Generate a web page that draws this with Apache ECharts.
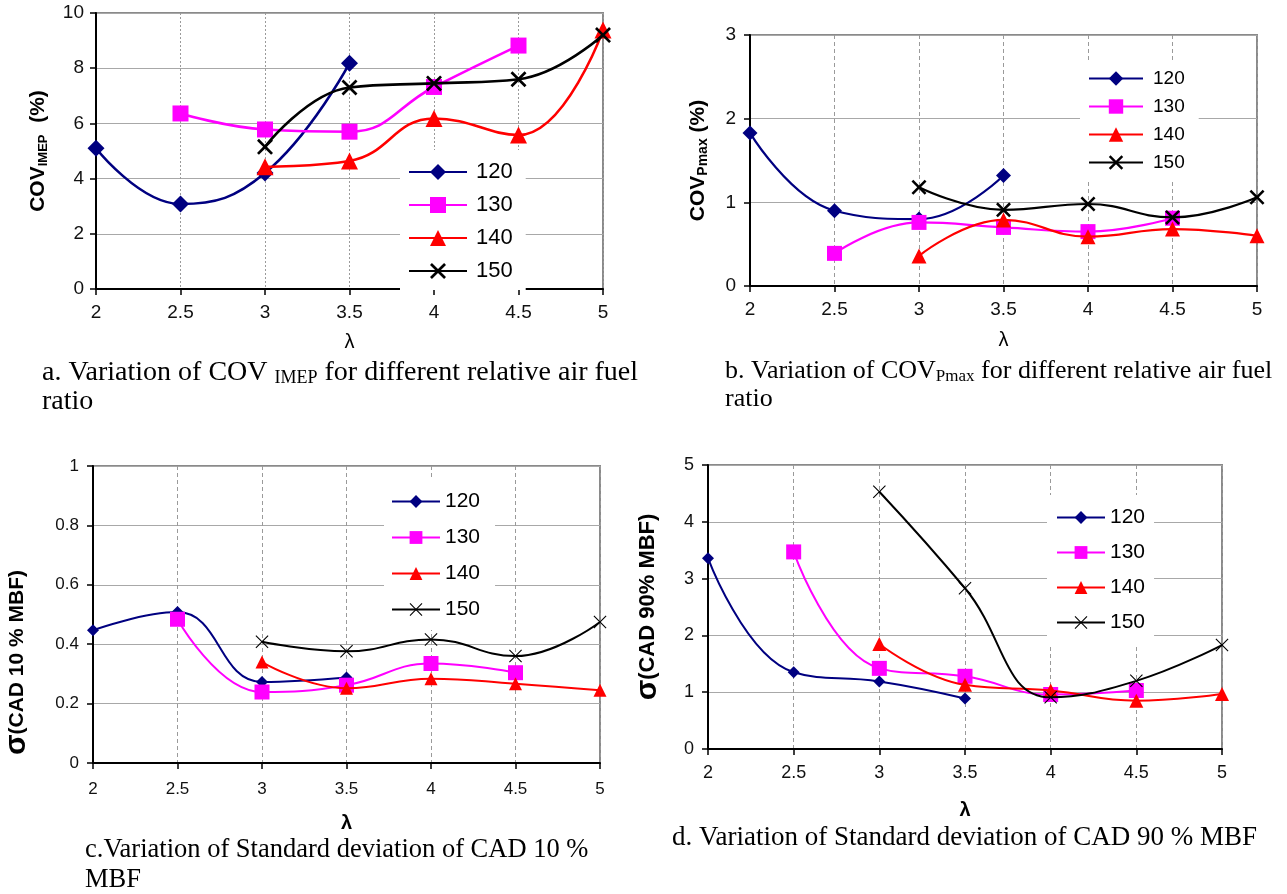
<!DOCTYPE html>
<html>
<head>
<meta charset="utf-8">
<script src="https://cdn.jsdelivr.net/npm/echarts@6/dist/echarts.min.js"></script>
<style>
  html, body { margin: 0; padding: 0; background: #fff; }
  #chart { width: 1287px; height: 894px; }
</style>
</head>
<body>
<div id="chart"></div>
<script>
// λ categories (x values) shared by all four panels
const lambda = [2, 2.5, 3, 3.5, 4, 4.5, 5];
const seriesNames = ['120', '130', '140', '150'];

// a. COV_IMEP (%)
const imep120 = [5.1, 3.08, 4.2, 8.18, null, null, null];
const imep130 = [null, 6.36, 5.78, 5.7, 7.32, 8.82, null];
const imep140 = [null, null, 4.43, 4.64, 6.18, 5.58, 9.38];
const imep150 = [null, null, 5.15, 7.3, 7.45, 7.6, 9.2];

// b. COV_Pmax (%)
const pmax120 = [1.83, 0.9, 0.8, 1.32, null, null, null];
const pmax130 = [null, 0.39, 0.76, 0.7, 0.65, 0.81, null];
const pmax140 = [null, null, 0.36, 0.79, 0.59, 0.68, 0.6];
const pmax150 = [null, null, 1.18, 0.91, 0.98, 0.82, 1.06];

// c. σ(CAD 10 % MBF)
const cad10_120 = [0.447, 0.508, 0.273, 0.288, null, null, null];
const cad10_130 = [null, 0.484, 0.239, 0.262, 0.335, 0.304, null];
const cad10_140 = [null, null, 0.34, 0.252, 0.284, 0.267, 0.245];
const cad10_150 = [null, null, 0.408, 0.376, 0.416, 0.36, 0.475];

// d. σ(CAD 90% MBF)
const cad90_120 = [3.36, 1.35, 1.19, 0.89, null, null, null];
const cad90_130 = [null, 3.47, 1.42, 1.28, 0.96, 1.03, null];
const cad90_140 = [null, null, 1.85, 1.13, 1.03, 0.85, 0.97];
const cad90_150 = [null, null, 4.53, 2.83, 0.91, 1.2, 1.83];

const colors = ['#000080', '#ff00ff', '#ff0000', '#000000'];
const X_THICK = 'path://M0,1.2L1.2,0L5,3.8L8.8,0L10,1.2L6.2,5L10,8.8L8.8,10L5,6.2L1.2,10L0,8.8L3.8,5Z';
const X_THIN = 'path://M0,0.6L0.6,0L5,4.4L9.4,0L10,0.6L5.6,5L10,9.4L9.4,10L5,5.6L0.6,10L0,9.4L4.4,5Z';

const SANS = 'Liberation Sans, Arial, sans-serif';
const SERIF = 'Liberation Serif, Times New Roman, serif';

const panels = [
  { key: 'a', values: [imep120, imep130, imep140, imep150],
    grid: { left: 96, top: 13, width: 507, height: 276 },
    ymax: 10, yint: 2, lineW: 2.6, smooth: 0.45,
    sizes: [17, 16, 17, 16], xSym: X_THICK,
    labelSize: 19, yMargin: 12, xMargin: 14, lamGap: 43, lamBold: 'normal',
    vDash: [2, 2],
    yName: '{b|COV}{s|IMEP}{b|  (%)}', yNameGap: 46, yNamePad: [0, 0, 0, 0],
    yRich: { b: { fontSize: 21, fontWeight: 'bold', fontFamily: SANS, color: '#000', lineHeight: 24 },
             s: { fontSize: 13, fontWeight: 'bold', fontFamily: SANS, color: '#000', lineHeight: 13, verticalAlign: 'bottom' } },
    legend: { left: 400, top: 150, itemWidth: 58, itemHeight: 20, itemGap: 11, fontSize: 22,
              padding: [11, 13, 8, 8], textPad: [0, 0, 0, 4] } },
  { key: 'b', values: [pmax120, pmax130, pmax140, pmax150],
    grid: { left: 750, top: 35, width: 507, height: 251 },
    ymax: 3, yint: 1, lineW: 2.2, smooth: 0.45,
    sizes: [15, 15, 15, 15], xSym: X_THICK,
    labelSize: 19, yMargin: 14, xMargin: 14, lamGap: 44, lamBold: 'normal',
    vDash: [4, 3],
    yName: '{b|COV}{s|Pmax}{b| (%)}', yNameGap: 40, yNamePad: [0, 0, 0, 0],
    yRich: { b: { fontSize: 21, fontWeight: 'bold', fontFamily: SANS, color: '#000', lineHeight: 24 },
             s: { fontSize: 14, fontWeight: 'bold', fontFamily: SANS, color: '#000', lineHeight: 14, verticalAlign: 'bottom' } },
    legend: { left: 1080, top: 60, itemWidth: 54, itemHeight: 18, itemGap: 9, fontSize: 19,
              padding: [9, 14, 8, 8], textPad: [0, 0, 0, 5] } },
  { key: 'c', values: [cad10_120, cad10_130, cad10_140, cad10_150],
    grid: { left: 93, top: 466, width: 507, height: 297 },
    ymax: 1, yint: 0.2, lineW: 2, smooth: 0.45,
    sizes: [12, 15, 13, 13], xSym: X_THIN,
    labelSize: 17, yMargin: 14, xMargin: 18, lamGap: 50, lamBold: 'bold',
    vDash: [4, 3],
    yName: '{g|σ}{t|(CAD 10 % MBF)}', yNameGap: 61, yNamePad: [0, 96, 0, 0],
    yRich: { g: { fontSize: 30, fontWeight: 'bold', fontFamily: SANS, color: '#000' },
             t: { fontSize: 21, fontWeight: 'bold', fontFamily: SANS, color: '#000' } },
    legend: { left: 384, top: 480, itemWidth: 48, itemHeight: 16, itemGap: 15, fontSize: 21,
              padding: [11, 15, 10, 7], textPad: [0, 0, 0, 0] } },
  { key: 'd', values: [cad90_120, cad90_130, cad90_140, cad90_150],
    grid: { left: 708, top: 465, width: 514, height: 284 },
    ymax: 5, yint: 1, lineW: 2, smooth: 0.45,
    sizes: [12, 15, 14, 13], xSym: X_THIN,
    labelSize: 18, yMargin: 14, xMargin: 15, lamGap: 51, lamBold: 'bold',
    vDash: [4, 3],
    yName: '{g|σ}{t|(CAD 90% MBF)}', yNameGap: 45, yNamePad: [0, 0, 0, 0],
    yRich: { g: { fontSize: 30, fontWeight: 'bold', fontFamily: SANS, color: '#000' },
             t: { fontSize: 22, fontWeight: 'bold', fontFamily: SANS, color: '#000' } },
    legend: { left: 1047, top: 495, itemWidth: 48, itemHeight: 16, itemGap: 14, fontSize: 21,
              padding: [12, 9, 13, 9], textPad: [0, 0, 0, 0] } }
];

const symbols = ['diamond', 'rect', 'triangle', null];

const grids = [], xAxes = [], yAxes = [], series = [], legends = [];
panels.forEach(function (p, gi) {
  grids.push(Object.assign({ show: true, borderColor: '#8a8a8a', borderWidth: 2, backgroundColor: 'transparent', containLabel: false }, p.grid));
  xAxes.push({
    type: 'value', gridIndex: gi, min: 2, max: 5, interval: 0.5,
    name: 'λ', nameLocation: 'middle', nameGap: p.lamGap,
    nameTextStyle: { fontSize: 20, fontFamily: SANS, color: '#000', fontWeight: p.lamBold },
    axisLine: { onZero: false, lineStyle: { color: '#000', width: 2 } },
    axisTick: { show: true, inside: false, length: 6, lineStyle: { color: '#000', width: 1.5 } },
    axisLabel: { fontSize: p.labelSize, fontFamily: SANS, color: '#111', margin: p.xMargin },
    splitLine: { show: true, lineStyle: { type: p.vDash, color: '#9a9a9a', width: 1 } }
  });
  yAxes.push({
    type: 'value', gridIndex: gi, min: 0, max: p.ymax, interval: p.yint,
    name: p.yName, nameLocation: 'middle', nameGap: p.yNameGap,
    nameTextStyle: { rich: p.yRich, padding: p.yNamePad },
    axisLine: { onZero: false, lineStyle: { color: '#000', width: 2 } },
    axisTick: { show: true, inside: false, length: 6, lineStyle: { color: '#000', width: 1.5 } },
    axisLabel: { fontSize: p.labelSize, fontFamily: SANS, color: '#111', margin: p.yMargin },
    splitLine: { show: true, lineStyle: { type: 'solid', color: '#a8a8a8', width: 1 } }
  });
  const names = [];
  p.values.forEach(function (vals, si) {
    const nm = p.key + '_' + seriesNames[si];
    names.push(nm);
    const data = [];
    lambda.forEach(function (x, i) { if (vals[i] !== null) data.push([x, vals[i]]); });
    series.push({
      type: 'line', name: nm, xAxisIndex: gi, yAxisIndex: gi,
      data: data, smooth: p.smooth,
      symbol: symbols[si] || p.xSym, symbolSize: p.sizes[si],
      lineStyle: { color: colors[si], width: p.lineW },
      itemStyle: { color: colors[si] },
      z: 3 + si
    });
  });
  const L = p.legend;
  legends.push({
    data: names, orient: 'vertical', left: L.left, top: L.top,
    itemWidth: L.itemWidth, itemHeight: L.itemHeight, itemGap: L.itemGap,
    padding: L.padding, backgroundColor: '#fff', borderWidth: 0,
    selectedMode: false,
    formatter: function (n) { return n.split('_')[1]; },
    textStyle: { fontSize: L.fontSize, fontFamily: SANS, color: '#000', lineHeight: L.itemHeight, padding: L.textPad }
  });
});

const capRich = function (size, sub, lh) {
  return {
    t: { fontSize: size, fontFamily: SERIF, color: '#000', lineHeight: lh },
    s: { fontSize: sub, fontFamily: SERIF, color: '#000', lineHeight: sub, verticalAlign: 'bottom' }
  };
};
const titles = [
  { left: 42, top: 358, text: '{t|a. Variation of COV }{s|IMEP}{t| for different relative air fuel}\n{t|ratio}', rich: capRich(28, 18, 29) },
  { left: 725, top: 357, text: '{t|b. Variation of COV}{s|Pmax}{t| for different relative air fuel}\n{t|ratio}', rich: capRich(26, 17, 28) },
  { left: 85, top: 835, text: '{t|c.Variation of Standard deviation of CAD 10 %}\n{t|MBF}', rich: capRich(26.5, 17, 30) },
  { left: 672, top: 823, text: '{t|d. Variation of Standard deviation of CAD 90 % MBF}', rich: capRich(27, 17, 30) }
].map(function (t) {
  return { left: t.left, top: t.top, padding: 0, text: t.text, textStyle: { rich: t.rich, fontFamily: SERIF, fontWeight: 'normal' } };
});

const chart = echarts.init(document.getElementById('chart'), null, { renderer: 'canvas' });
chart.setOption({
  animation: false,
  backgroundColor: '#fff',
  title: titles,
  grid: grids,
  xAxis: xAxes,
  yAxis: yAxes,
  legend: legends,
  series: series
});
</script>
</body>
</html>
